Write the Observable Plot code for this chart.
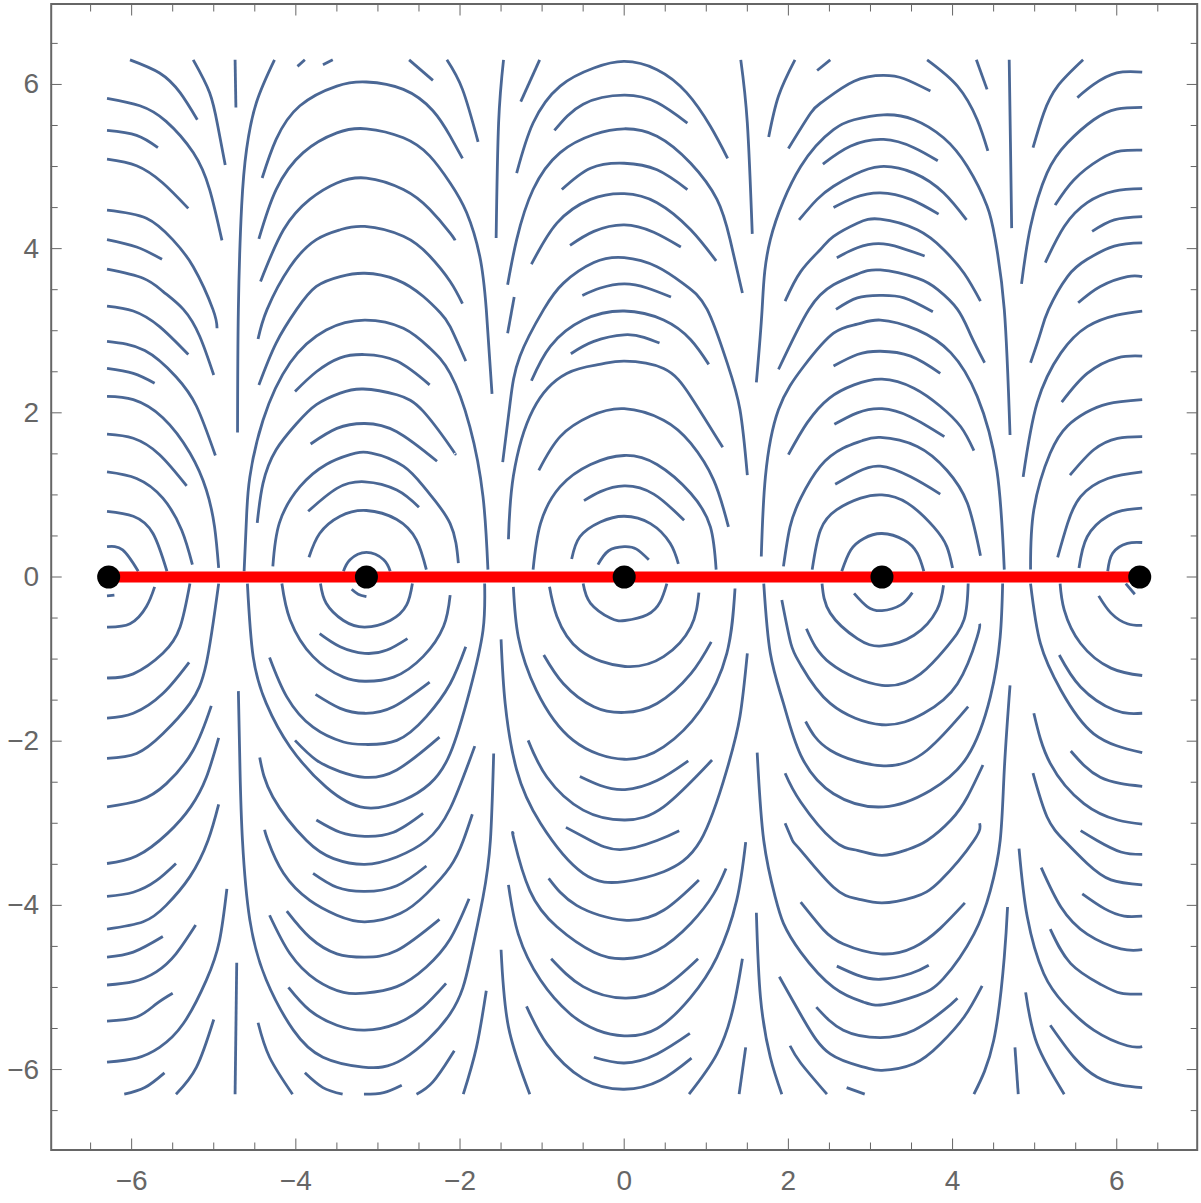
<!DOCTYPE html>
<html><head><meta charset="utf-8">
<style>html,body{margin:0;padding:0;background:#fff}svg{display:block}</style>
<script src="https://cdn.jsdelivr.net/npm/d3@7"></script>
<script src="https://cdn.jsdelivr.net/npm/@observablehq/plot@0.6"></script>
</head><body>
<div id="chart"></div>
<script>
const majorTicks = [-6,-4,-2,0,2,4,6];
const minorTicks = [-6.5,-5.5,-5,-4.5,-3.5,-3,-2.5,-1.5,-1,-0.5,0.5,1,1.5,2.5,3,3.5,4.5,5,5.5,6.5];
const equilibriaX = [-6.28,-3.14,0,3.14,6.28];
const equilibriaY = [0,0,0,0,0];
const segmentX = [-6.28,6.28];
const segmentY = [0,0];

const upperA = [
[-6.02,6.30,-5.66,6.14,-5.41,5.90,-5.20,5.57],
[-5.25,6.30,-5.05,5.90,-4.95,5.49,-4.86,5.02],
[-6.30,5.83,-5.90,5.74,-5.58,5.55,-5.25,5.17,-5.05,4.72,-4.90,4.10],
[-6.30,5.44,-5.94,5.38,-5.68,5.23],
[-6.30,5.09,-5.94,5.01,-5.62,4.80,-5.31,4.49],
[-6.30,4.47,-5.82,4.37,-5.50,4.11,-5.25,3.78,-5.01,3.26,-4.96,3.03],
[-6.30,4.11,-5.94,4.02,-5.63,3.87],
[-6.30,3.75,-5.86,3.64,-5.62,3.48,-5.37,3.26,-5.17,2.93,-5.00,2.46],
[-6.30,3.30,-5.98,3.24,-5.66,3.05,-5.31,2.71],
[-6.30,2.87,-5.84,2.76,-5.46,2.44,-5.21,2.08,-4.98,1.48],
[-6.30,2.54,-5.98,2.48,-5.72,2.36],
[-6.30,2.20,-5.98,2.16,-5.62,1.94,-5.29,1.51,-5.09,1.06,-4.99,0.61,-4.94,0.11],
[-6.30,1.74,-5.98,1.69,-5.66,1.49,-5.33,1.11],
[-6.30,1.28,-5.94,1.20,-5.62,0.96,-5.39,0.57,-5.26,0.15],
[-6.30,0.80,-5.98,0.74,-5.74,0.53,-5.57,0.07],
[-6.30,0.37,-6.11,0.33,-5.92,0.07],
[-4.74,6.30,-4.73,5.72],
[-4.26,6.30,-4.48,5.78,-4.60,5.21,-4.66,4.52,-4.70,3.26,-4.71,1.76]
];
const upperB = [
[-4.41,4.86,-4.24,5.33,-3.95,5.74,-3.50,5.98,-3.14,6.03,-2.69,5.94,-2.33,5.68,-2.12,5.37,-1.97,5.10],
[-4.45,4.12,-4.24,4.72,-3.91,5.17,-3.50,5.41,-3.14,5.46,-2.69,5.35,-2.37,5.13,-2.12,4.80,-1.92,4.44,-1.76,3.91,-1.68,3.26,-1.61,2.23],
[-4.43,3.60,-4.15,4.23,-3.83,4.60,-3.50,4.80,-3.14,4.86,-2.69,4.72,-2.37,4.48,-2.12,4.19,-2.06,4.10],
[-4.46,2.90,-4.35,3.26,-4.07,3.78,-3.75,4.11,-3.46,4.23,-3.16,4.27,-2.69,4.15,-2.37,3.91,-2.12,3.60,-1.97,3.33],
[-4.45,2.34,-4.24,2.85,-3.99,3.26,-3.75,3.54,-3.46,3.66,-3.16,3.70,-2.77,3.62,-2.45,3.42,-2.24,3.22,-2.12,3.05,-1.93,2.63],
[-4.63,0.07,-4.60,0.74,-4.56,1.22,-4.40,1.91,-4.07,2.61,-3.63,3.01,-3.16,3.13,-2.69,3.03,-2.37,2.79,-2.12,2.48,-1.88,1.83,-1.72,0.98,-1.66,0.09],
[-4.01,2.26,-3.75,2.50,-3.46,2.67,-3.16,2.71,-2.77,2.63,-2.37,2.34],
[-4.47,0.66,-4.40,1.14,-4.24,1.55,-3.99,1.87,-3.75,2.10,-3.46,2.24,-3.18,2.29,-2.77,2.22,-2.45,2.02,-2.12,1.59,-2.06,1.50],
[-3.82,1.62,-3.50,1.81,-3.16,1.87,-2.77,1.77,-2.28,1.41],
[-4.28,0.13,-4.20,0.66,-3.95,1.10,-3.63,1.37,-3.34,1.49,-3.08,1.51,-2.69,1.35,-2.41,1.06,-2.12,0.65,-2.02,0.17],
[-3.85,0.80,-3.50,1.08,-3.16,1.16,-2.77,1.06,-2.50,0.85],
[-3.84,0.24,-3.71,0.53,-3.46,0.74,-3.14,0.81,-2.77,0.70,-2.53,0.45,-2.41,0.09],
[-3.42,0.07,-3.34,0.21,-3.14,0.30,-2.93,0.21,-2.85,0.07],
[-3.98,6.22,-3.89,6.30],
[-3.67,6.24,-3.55,6.30],
[-2.62,6.30,-2.33,6.05],
[-2.16,6.30,-1.97,5.94,-1.78,5.30]
];
const upperC = [
[-1.47,6.30,-1.53,5.53,-1.56,4.13],
[-1.03,6.30,-1.26,5.79],
[-1.31,4.92,-1.11,5.53,-0.78,5.98,-0.37,6.20,0,6.28,0.40,6.18,0.76,5.90,1.05,5.49,1.26,5.10],
[-0.85,5.44,-0.50,5.76,0,5.87,0.40,5.78,0.77,5.53],
[-1.42,3.56,-1.31,4.11,-1.11,4.72,-0.78,5.17,-0.37,5.39,0,5.46,0.40,5.37,0.81,5.04,1.13,4.60,1.29,4.11,1.44,3.46],
[-0.76,4.72,-0.41,4.98,0,5.04,0.40,4.96,0.77,4.72],
[-1.13,3.81,-0.82,4.31,-0.41,4.60,0,4.67,0.40,4.56,0.81,4.23,1.12,3.85],
[-0.66,4.04,-0.37,4.21,0,4.29,0.36,4.20,0.69,4.02],
[-1.48,1.40,-1.39,2.12,-1.27,2.69,-0.98,3.26,-0.74,3.58,-0.37,3.83,0,3.89,0.40,3.78,0.74,3.56,1.01,3.26,1.25,2.62,1.41,2.04,1.50,1.24],
[-0.51,3.43,-0.29,3.52,0,3.57,0.28,3.52,0.57,3.41],
[-1.13,2.39,-0.90,2.81,-0.50,3.13,0,3.24,0.48,3.13,0.81,2.89,1.03,2.59],
[-0.65,2.72,-0.37,2.87,0,2.95,0.24,2.92,0.43,2.85],
[-1.41,0.46,-1.35,1.23,-1.11,2.04,-0.70,2.48,-0.30,2.59,0,2.63,0.48,2.54,0.81,2.20,1.20,1.58],
[-1.04,1.30,-0.78,1.71,-0.41,1.96,0,2.05,0.48,1.91,0.81,1.63,1.09,1.18,1.27,0.61],
[-1.11,0.09,-1.02,0.65,-0.78,1.10,-0.41,1.37,0,1.48,0.40,1.37,0.81,1.02,1.05,0.61,1.12,0.09],
[-0.49,0.93,-0.29,1.04,0,1.11,0.36,1.01,0.73,0.69],
[-0.64,0.22,-0.54,0.49,-0.29,0.67,0,0.74,0.32,0.65,0.56,0.41,0.66,0.16],
[-0.32,0.15,-0.19,0.32,0,0.37,0.15,0.34,0.30,0.21],
[-1.34,3.41,-1.42,2.97],
[1.42,6.30,1.50,5.53,1.56,4.18],
[2.08,6.30,1.88,5.86,1.76,5.36]
];
const upperD = [
[2.35,6.17,2.51,6.30],
[2.00,5.22,2.27,5.65,2.43,5.80,2.80,6.04,3.16,6.11,3.41,6.07,3.73,5.92],
[1.61,2.37,1.68,3.26,1.78,4.11,2.15,5.00,2.55,5.45,2.80,5.57,3.16,5.63,3.53,5.57,3.89,5.35,4.18,5.00,4.42,4.52,4.52,4.11,4.63,3.26,4.70,1.73],
[2.42,5.03,2.76,5.25,3.16,5.33,3.53,5.23,3.82,5.07],
[2.13,4.35,2.35,4.60,2.55,4.76,2.80,4.90,3.12,5.00,3.53,4.92,3.89,4.68,4.17,4.35],
[2.55,4.50,2.80,4.62,3.12,4.68,3.49,4.60,3.83,4.42],
[1.96,3.36,2.15,3.72,2.39,3.99,2.55,4.15,2.84,4.31,3.12,4.36,3.57,4.23,3.89,3.99,4.14,3.70,4.34,3.36],
[2.59,3.89,2.84,4.01,3.10,4.06,3.37,4.01,3.66,3.91],
[1.88,2.53,2.25,3.26,2.55,3.56,2.84,3.69,3.12,3.74,3.57,3.64,3.82,3.50,4.06,3.26,4.22,2.95,4.39,2.61],
[2.58,3.26,2.84,3.40,3.12,3.43,3.41,3.40,3.76,3.23],
[1.67,0.25,1.72,1.22,1.88,2.04,2.19,2.57,2.55,2.97,2.84,3.08,3.12,3.13,3.57,3.01,3.98,2.73,4.30,2.20,4.54,1.30,4.63,0.09],
[2.55,2.57,2.84,2.71,3.12,2.75,3.49,2.69,3.85,2.48],
[2.00,1.49,2.23,1.88,2.50,2.18,2.80,2.34,3.14,2.41,3.53,2.30,3.85,2.08,4.10,1.83,4.26,1.54],
[2.56,1.86,2.84,2.00,3.14,2.05,3.49,1.95,3.90,1.71],
[1.94,0.13,2.02,0.61,2.15,0.96,2.39,1.35,2.67,1.57,2.90,1.66,3.12,1.70,3.57,1.59,3.93,1.30,4.18,0.90,4.34,0.26],
[2.57,1.13,2.84,1.28,3.12,1.35,3.49,1.22,3.85,1.01],
[2.29,0.09,2.39,0.57,2.59,0.82,2.88,0.96,3.14,1.00,3.45,0.90,3.77,0.61,3.93,0.37,4.00,0.11],
[2.65,0.07,2.76,0.33,2.92,0.47,3.14,0.53,3.41,0.45,3.57,0.29,3.65,0.07],
[3.69,6.30,4.06,5.98,4.30,5.57,4.43,5.19],
[4.29,6.30,4.42,5.94],
[4.69,6.30,4.705,5.30,4.72,4.25]
];
const upperE = [
[5.59,6.30,5.28,5.98,5.11,5.65,4.98,5.23],
[5.52,5.84,5.72,6.00,6.00,6.14,6.31,6.15],
[4.84,3.57,4.95,4.27,5.15,4.92,5.40,5.29,5.72,5.57,6.00,5.70,6.31,5.72],
[5.25,4.53,5.48,4.84,5.80,5.09,6.05,5.19,6.31,5.20],
[5.13,3.83,5.36,4.27,5.64,4.56,5.97,4.70,6.31,4.73],
[5.70,4.21,5.97,4.35,6.31,4.39],
[4.95,2.61,5.07,2.97,5.17,3.26,5.40,3.66,5.64,3.87,5.97,4.03,6.31,4.07],
[5.53,3.34,5.80,3.54,6.13,3.66,6.31,3.66],
[4.86,1.22,5.03,2.12,5.32,2.73,5.64,3.05,6.00,3.19,6.31,3.24],
[5.33,2.13,5.64,2.48,6.01,2.67,6.31,2.69],
[4.95,0.09,4.99,0.82,5.19,1.51,5.40,1.84,5.62,2.00,5.89,2.11,6.31,2.16],
[5.43,1.24,5.72,1.55,6.01,1.69,6.31,1.71],
[5.28,0.24,5.40,0.65,5.56,0.98,5.89,1.20,6.31,1.28],
[5.54,0.11,5.64,0.49,5.89,0.74,6.13,0.82,6.31,0.84],
[5.89,0.07,5.95,0.29,6.13,0.41,6.31,0.42]
];
const lowerA = [
[-6.30,-0.23,-6.21,-0.22],
[-6.30,-0.61,-6.02,-0.57,-5.82,-0.36,-5.72,-0.12],
[-6.30,-1.23,-5.98,-1.18,-5.62,-0.93,-5.41,-0.61,-5.29,-0.08],
[-6.30,-1.72,-5.98,-1.66,-5.62,-1.42,-5.30,-1.04],
[-6.30,-2.21,-5.94,-2.15,-5.62,-1.91,-5.29,-1.54,-5.09,-1.05,-4.94,-0.08],
[-6.30,-2.80,-5.90,-2.72,-5.58,-2.52,-5.25,-2.11,-5.03,-1.57],
[-6.30,-3.49,-5.94,-3.40,-5.56,-3.12,-5.28,-2.80,-5.09,-2.44,-4.94,-1.96],
[-4.94,-2.77,-5.07,-3.21,-5.29,-3.65,-5.58,-4.00,-5.86,-4.20,-6.30,-4.29],
[-6.30,-3.89,-5.98,-3.84,-5.70,-3.70,-5.46,-3.49],
[-6.30,-4.63,-5.98,-4.57,-5.62,-4.38],
[-6.30,-4.97,-5.98,-4.93,-5.70,-4.81,-5.46,-4.59,-5.22,-4.24],
[-6.30,-5.41,-5.94,-5.36,-5.70,-5.20,-5.50,-5.07],
[-4.84,-3.80,-4.93,-4.43,-5.09,-4.91,-5.37,-5.44,-5.66,-5.73,-5.94,-5.86,-6.30,-5.91],
[-6.09,-6.30,-5.84,-6.22,-5.60,-6.04],
[-5.46,-6.30,-5.21,-5.97,-5.00,-5.39],
[-4.74,-6.30,-4.72,-4.70]
];
const lowerB = [
[-4.70,-1.39,-4.68,-2.35,-4.65,-3.21,-4.56,-4.18,-4.36,-4.91,-4.03,-5.52,-3.67,-5.85,-3.18,-5.97,-2.69,-5.87,-2.12,-5.32,-1.88,-4.67,-1.72,-3.90,-1.63,-3.21,-1.59,-2.15],
[-3.32,-0.15,-3.24,-0.21,-3.14,-0.24],
[-3.70,-0.08,-3.63,-0.32,-3.42,-0.53,-3.16,-0.61,-2.85,-0.53,-2.65,-0.34,-2.58,-0.08],
[-3.71,-0.69,-3.46,-0.85,-3.16,-0.93,-2.89,-0.89,-2.64,-0.75],
[-4.17,-0.08,-4.07,-0.52,-3.79,-0.97,-3.42,-1.22,-3.16,-1.27,-2.81,-1.22,-2.45,-0.97,-2.20,-0.60,-2.12,-0.22],
[-3.76,-1.43,-3.46,-1.60,-3.16,-1.66,-2.81,-1.58,-2.37,-1.28],
[-4.32,-0.98,-4.11,-1.46,-3.79,-1.83,-3.42,-2.01,-3.16,-2.04,-2.77,-1.99,-2.41,-1.70,-2.12,-1.30,-1.93,-0.85],
[-4.01,-1.99,-3.75,-2.23,-3.46,-2.37,-3.16,-2.44,-2.77,-2.35,-2.25,-1.95],
[-4.59,-0.08,-4.52,-0.97,-4.36,-1.54,-4.07,-2.07,-3.63,-2.56,-3.16,-2.81,-2.69,-2.72,-2.37,-2.52,-2.12,-2.15,-1.88,-1.38,-1.72,-0.65,-1.70,-0.08],
[-3.75,-2.96,-3.46,-3.11,-3.16,-3.16,-2.81,-3.11,-2.45,-2.88],
[-4.44,-2.20,-4.28,-2.68,-3.87,-3.21,-3.54,-3.43,-3.16,-3.50,-2.77,-3.41,-2.41,-3.21,-2.12,-2.82,-1.82,-2.06],
[-4.38,-3.08,-4.34,-3.21,-4.15,-3.61,-3.83,-3.94,-3.50,-4.12,-3.16,-4.20,-2.73,-4.10,-2.41,-3.86,-2.12,-3.53,-1.96,-3.21,-1.85,-2.89],
[-3.79,-3.61,-3.50,-3.78,-3.16,-3.83,-2.77,-3.76,-2.41,-3.52],
[-4.32,-4.12,-4.07,-4.59,-3.75,-4.91,-3.42,-5.06,-3.16,-5.07,-2.77,-4.99,-2.41,-4.75,-2.12,-4.41,-1.89,-3.92],
[-4.11,-4.07,-3.83,-4.39,-3.50,-4.59,-3.16,-4.63,-2.77,-4.55,-2.25,-4.17],
[-4.09,-5.00,-3.83,-5.28,-3.50,-5.46,-3.16,-5.52,-2.77,-5.44,-2.45,-5.24,-2.17,-4.95],
[-4.46,-5.43,-4.32,-5.85,-4.04,-6.30],
[-3.89,-6.04,-3.67,-6.22,-3.43,-6.30],
[-3.17,-6.30,-2.93,-6.28,-2.71,-6.19],
[-2.53,-6.30,-2.33,-6.15,-2.12,-5.85,-2.07,-5.77],
[-1.96,-6.30,-1.80,-5.73,-1.68,-5.04]
];
const lowerC = [
[-0.50,-0.08,-0.41,-0.32,-0.17,-0.50,0.01,-0.53,0.28,-0.46,0.44,-0.30,0.52,-0.08],
[-0.91,-0.12,-0.82,-0.48,-0.54,-0.89,0.01,-1.09,0.48,-0.97,0.81,-0.61,0.91,-0.19],
[-0.98,-0.95,-0.74,-1.30,-0.37,-1.58,0,-1.65,0.40,-1.54,0.81,-1.18,1.06,-0.79],
[-1.35,-0.12,-1.29,-0.73,-1.07,-1.38,-0.62,-1.99,0,-2.22,0.48,-2.07,0.93,-1.62,1.25,-0.93,1.35,-0.14],
[-1.50,-0.76,-1.45,-1.54,-1.31,-2.35,-1.02,-3.00,-0.50,-3.61,0,-3.71,0.48,-3.59,0.93,-3.21,1.25,-2.35,1.41,-1.70,1.50,-0.93],
[-1.17,-1.99,-0.94,-2.44,-0.50,-2.84,0.01,-2.96,0.48,-2.80,1.07,-2.23],
[-0.54,-2.43,-0.29,-2.54,0.01,-2.59,0.40,-2.48,0.78,-2.24],
[-0.71,-3.05,-0.41,-3.21,-0.05,-3.32,0.40,-3.21,0.67,-3.09],
[-1.35,-3.13,-1.34,-3.21,-1.15,-3.82,-0.82,-4.26,-0.37,-4.57,0,-4.65,0.40,-4.55,0.81,-4.22,1.09,-3.86,1.24,-3.55],
[-0.92,-3.67,-0.58,-4.00,0,-4.18,0.48,-4.06,0.91,-3.69],
[-1.41,-3.75,-1.29,-4.35,-1.02,-4.91,-0.66,-5.32,-0.33,-5.52,0,-5.59,0.40,-5.50,0.81,-5.12,1.13,-4.63,1.37,-3.94,1.48,-3.23],
[-0.89,-4.65,-0.50,-4.99,0.01,-5.13,0.48,-5.00,0.90,-4.65],
[-0.37,-5.85,0,-5.92,0.40,-5.81,0.80,-5.56],
[-1.19,-5.23,-0.94,-5.69,-0.50,-6.11,0,-6.24,0.44,-6.13,0.82,-5.86],
[-1.50,-4.54,-1.41,-5.48,-1.15,-6.30],
[0.79,-6.30,1.13,-5.81,1.33,-5.24,1.44,-4.65],
[1.40,-6.30,1.48,-5.73],
[1.61,-4.09,1.66,-5.12,1.78,-5.85,1.92,-6.30]
];
const lowerD = [
[1.62,-2.14,1.70,-3.21,1.84,-3.90,1.94,-4.22,2.15,-4.57,2.55,-5.00,2.92,-5.18,3.16,-5.21,3.57,-5.10,3.89,-4.89,4.26,-4.35,4.46,-3.82,4.58,-3.21,4.63,-2.35,4.70,-1.32],
[1.96,-2.39,2.15,-2.74,2.55,-3.21,2.84,-3.33,3.14,-3.39,3.45,-3.32,3.69,-3.21,3.98,-2.96,4.18,-2.68,4.37,-2.29],
[1.96,-3.00,2.05,-3.21,2.15,-3.33,2.55,-3.78,2.84,-3.92,3.14,-3.97,3.53,-3.90,3.85,-3.70,4.26,-3.21,4.33,-3.00],
[2.80,-0.20,2.96,-0.36,3.14,-0.41,3.37,-0.34,3.51,-0.19],
[2.41,-0.08,2.51,-0.44,2.84,-0.75,3.14,-0.84,3.53,-0.71,3.81,-0.40,3.89,-0.10],
[2.22,-0.63,2.51,-1.05,3.14,-1.32,3.61,-1.18,3.93,-0.85,4.14,-0.52,4.19,-0.08],
[1.92,-0.28,2.03,-0.81,2.15,-1.07,2.51,-1.54,3.14,-1.80,3.65,-1.66,4.06,-1.30,4.30,-0.73,4.33,-0.57],
[2.21,-1.76,2.51,-2.11,3.16,-2.30,3.69,-2.11,4.19,-1.58],
[1.70,-0.08,1.78,-0.93,1.94,-1.54,2.15,-2.17,2.55,-2.64,3.16,-2.80,3.73,-2.60,4.18,-2.19,4.46,-1.46,4.58,-0.73,4.61,-0.08],
[2.59,-4.74,2.84,-4.85,3.12,-4.90,3.49,-4.83,3.71,-4.73],
[2.15,-3.96,2.43,-4.30,2.67,-4.47,3.12,-4.59,3.53,-4.51,3.85,-4.28,4.15,-3.97],
[2.34,-5.24,2.67,-5.52,3.12,-5.61,3.53,-5.52,3.89,-5.28,4.06,-5.13],
[1.89,-4.87,2.19,-5.40,2.51,-5.81,2.92,-5.97,3.14,-6.01,3.53,-5.93,3.85,-5.69,4.14,-5.36,4.36,-4.98],
[2.02,-5.71,2.15,-5.92,2.47,-6.30],
[2.71,-6.22,2.93,-6.30],
[4.26,-6.30,4.50,-5.65,4.63,-4.63,4.67,-4.02],
[4.76,-5.73,4.80,-6.30]
];
const lowerE = [
[4.81,-3.31,4.91,-4.14,5.11,-4.83,5.36,-5.20,5.72,-5.52,6.13,-5.71,6.31,-5.72],
[5.08,-3.54,5.32,-4.02,5.64,-4.35,6.05,-4.53,6.31,-4.54],
[5.58,-3.86,5.85,-4.04,6.09,-4.13,6.31,-4.13],
[5.19,-4.29,5.44,-4.71,5.80,-4.96,6.05,-5.07,6.31,-5.08],
[4.89,-5.06,5.03,-5.69,5.36,-6.30],
[5.19,-5.46,5.48,-5.85,5.76,-6.09,6.05,-6.19,6.31,-6.22],
[6.11,-0.08,6.22,-0.21],
[5.78,-0.23,5.93,-0.44,6.13,-0.57,6.31,-0.59],
[5.31,-0.08,5.36,-0.40,5.56,-0.81,5.93,-1.11,6.31,-1.20],
[5.30,-0.95,5.56,-1.34,5.97,-1.62,6.31,-1.66],
[4.95,-0.08,5.07,-0.81,5.32,-1.38,5.72,-1.91,6.31,-2.14],
[5.44,-2.12,5.80,-2.44,6.31,-2.55],
[4.99,-1.66,5.19,-2.27,5.60,-2.76,6.01,-2.96,6.31,-3.01],
[4.98,-2.39,5.15,-2.92,5.36,-3.21,5.64,-3.49,5.93,-3.69,6.31,-3.75],
[5.56,-3.09,5.76,-3.21,6.05,-3.35,6.31,-3.38]
];

const streams = [...upperA,...upperB,...upperC,...upperD,...upperE,...lowerA,...lowerB,...lowerC,...lowerD,...lowerE];
const streamRows = streams.flatMap((s,id)=>d3.range(0,s.length,2).map(i=>({id,x:s[i],y:s[i+1]})));
const segmentRows = segmentX.map((x,i)=>({x,y:segmentY[i]}));
const dotRows = equilibriaX.map((x,i)=>({x,y:equilibriaY[i]}));

const gray = "#666666";
const tickAxes = [];
for (const [ticks,size] of [[majorTicks,11],[minorTicks,7]]) {
  for (const anchor of ["bottom","top"]) tickAxes.push(Plot.axisX(ticks,{anchor,tickSize:-size,fill:"none",stroke:gray,strokeWidth:1,label:null}));
  for (const anchor of ["left","right"]) tickAxes.push(Plot.axisY(ticks,{anchor,tickSize:-size,fill:"none",stroke:gray,strokeWidth:1,label:null}));
}
const intLabel = d3.format("d");

const chart = Plot.plot({
  width:1201,height:1203,
  marginLeft:50.7,marginRight:4.3,marginTop:3.5,marginBottom:53.5,
  style:{background:"#fff",fontFamily:"'Liberation Sans',Arial,sans-serif",fontSize:"28px"},
  x:{domain:[-6.98,6.98]},
  y:{domain:[-6.98,6.98]},
  marks:[
    Plot.line(streamRows,{x:"x",y:"y",z:"id",curve:"natural",stroke:"#4a6795",strokeWidth:2.8,strokeLinecap:"butt",strokeLinejoin:"round"}),
    Plot.line(segmentRows,{x:"x",y:"y",stroke:"#ff0000",strokeWidth:11,strokeLinecap:"butt"}),
    Plot.dot(dotRows,{x:"x",y:"y",r:11.5,fill:"#000",stroke:"none"}),
    ...tickAxes,
    Plot.axisX(majorTicks,{anchor:"bottom",tickSize:0,tickPadding:20,stroke:"none",fill:gray,label:null,fontSize:28,tickFormat:intLabel}),
    Plot.axisY(majorTicks,{anchor:"left",tickSize:0,tickPadding:12,stroke:"none",fill:gray,label:null,fontSize:28,tickFormat:intLabel}),
    Plot.frame({stroke:gray,strokeWidth:2})
  ]
});
document.getElementById("chart").appendChild(chart);
</script>
</body></html>
